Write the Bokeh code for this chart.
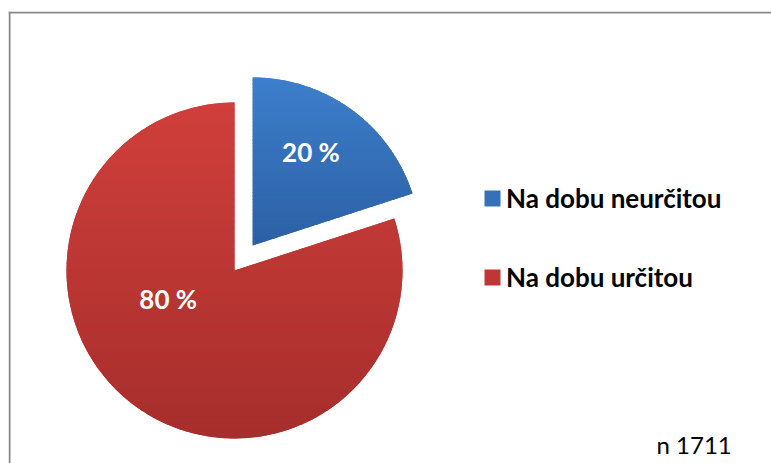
import math
from bokeh.plotting import figure
from bokeh.models import ColumnDataSource, Range1d, Label, Span
from bokeh.core.properties import value
from bokeh.embed import file_html
from bokeh.resources import INLINE

# ---- data ----
categories = ["Na dobu neurčitou", "Na dobu určitou"]
shares = [20, 80]
pct_labels = ["20 %", "80 %"]
colors = ["#3571B9", "#BE3734"]
grad_top = ["#3D7FCC", "#D03F3B"]
grad_bottom = ["#2C60A4", "#A62E2C"]
note = "n 1711"

# ---- layout constants (pixels, 1 data unit = 1 px) ----
W, H = 771, 463
TOP, LEFT = 11, 8
FW, FH = W - LEFT, H - TOP
CX, CY = 226, 193          # pie centre
R = 168                    # pie radius
EXPLODE = [31, 0]          # explosion distance per slice
LABEL_R = [110, 72]
LABEL_SHIFT = [4, -31]     # degrees away from slice mid-angle
N_BANDS = 48


def hex2rgb(h):
    return tuple(int(h[i:i + 2], 16) for i in (1, 3, 5))


def mix(c0, c1, t):
    a, b = hex2rgb(c0), hex2rgb(c1)
    return "#%02x%02x%02x" % tuple(round(a[k] + (b[k] - a[k]) * t) for k in range(3))


def clip(poly, yv, keep_above):
    out = []
    n = len(poly)
    for k in range(n):
        p0, p1 = poly[k - 1], poly[k]
        in0 = (p0[1] >= yv) if keep_above else (p0[1] <= yv)
        in1 = (p1[1] >= yv) if keep_above else (p1[1] <= yv)
        if in1:
            if not in0:
                t = (yv - p0[1]) / (p1[1] - p0[1])
                out.append((p0[0] + t * (p1[0] - p0[0]), yv))
            out.append(p1)
        elif in0:
            t = (yv - p0[1]) / (p1[1] - p0[1])
            out.append((p0[0] + t * (p1[0] - p0[0]), yv))
    return out


total = sum(shares)
xs, ys, starts, ends, lx, ly = [], [], [], [], [], []
band_x, band_y, band_c = [], [], []
a = 90.0
for i, s in enumerate(shares):
    sweep = 360.0 * s / total
    a_end, a_start = a, a - sweep  # clockwise from 12 o'clock
    mid = math.radians((a_start + a_end) / 2)
    cx = CX + EXPLODE[i] * math.cos(mid)
    cy = CY + EXPLODE[i] * math.sin(mid)
    xs.append(cx); ys.append(cy)
    starts.append(math.radians(a_start)); ends.append(math.radians(a_end))
    la = mid + math.radians(LABEL_SHIFT[i])
    lx.append(cx + LABEL_R[i] * math.cos(la))
    ly.append(cy + LABEL_R[i] * math.sin(la))
    # gradient overlay bands for this slice
    npts = 240
    poly = [(cx, cy)] + [
        (cx + R * math.cos(math.radians(a_start + sweep * k / npts)),
         cy + R * math.sin(math.radians(a_start + sweep * k / npts)))
        for k in range(npts + 1)]
    ytop = max(pt[1] for pt in poly)
    ybot = min(pt[1] for pt in poly)
    step = (ytop - ybot) / N_BANDS
    for b in range(N_BANDS):
        y_hi = ytop - b * step + (0.8 if b > 0 else 0)
        y_lo = ytop - (b + 1) * step
        piece = clip(clip(poly, y_lo, True), y_hi, False)
        if len(piece) >= 3:
            band_x.append([q[0] for q in piece])
            band_y.append([q[1] for q in piece])
            band_c.append(mix(grad_top[i], grad_bottom[i], (b + 0.5) / N_BANDS))
    a = a_start

src = ColumnDataSource(dict(x=xs, y=ys, start=starts, end=ends, color=colors,
                            label=categories, pct=pct_labels, lx=lx, ly=ly))
bands = ColumnDataSource(dict(xs=band_x, ys=band_y, color=band_c))

p = figure(width=W, height=H, output_backend="svg", toolbar_location=None,
           x_range=Range1d(0, FW), y_range=Range1d(0, FH),
           min_border_left=LEFT, min_border_right=0, min_border_top=TOP,
           min_border_bottom=0)
p.axis.visible = False
p.grid.visible = False
p.outline_line_color = None
p.background_fill_color = "white"
p.border_fill_color = "white"

# chart-area border (left and top edges are visible in the reference)
p.add_layout(Span(location=1, dimension="height", line_color="#888888", line_width=2))
p.add_layout(Span(location=FH - 1, dimension="width", line_color="#888888", line_width=2))

p.wedge(x="x", y="y", radius=R, start_angle="start", end_angle="end",
        fill_color="color", line_color=None, source=src, legend_field="label")
p.patches(xs="xs", ys="ys", fill_color="color", line_color=None, source=bands)

p.text(x="lx", y="ly", text="pct", source=src, text_color="white",
       text_font=value("Lato"), text_font_style="bold", text_font_size="26px",
       text_align="center", text_baseline="middle")

lg = p.legend[0]
lg.location = (474, 170)
lg.label_text_font = "Lato"
lg.label_text_font_style = "bold"
lg.label_text_font_size = "26px"
lg.label_text_color = "black"
lg.glyph_width = 20
lg.glyph_height = 20
lg.label_height = 30
lg.spacing = 47
lg.padding = 0
lg.margin = 0
lg.label_standoff = 4
lg.border_line_alpha = 0
lg.background_fill_alpha = 0

p.add_layout(Label(x=648, y=19, text=note, text_font="Lato",
                   text_font_size="24px", text_color="black",
                   text_baseline="alphabetic"))

open("out.html", "w").write(file_html(p, INLINE))
